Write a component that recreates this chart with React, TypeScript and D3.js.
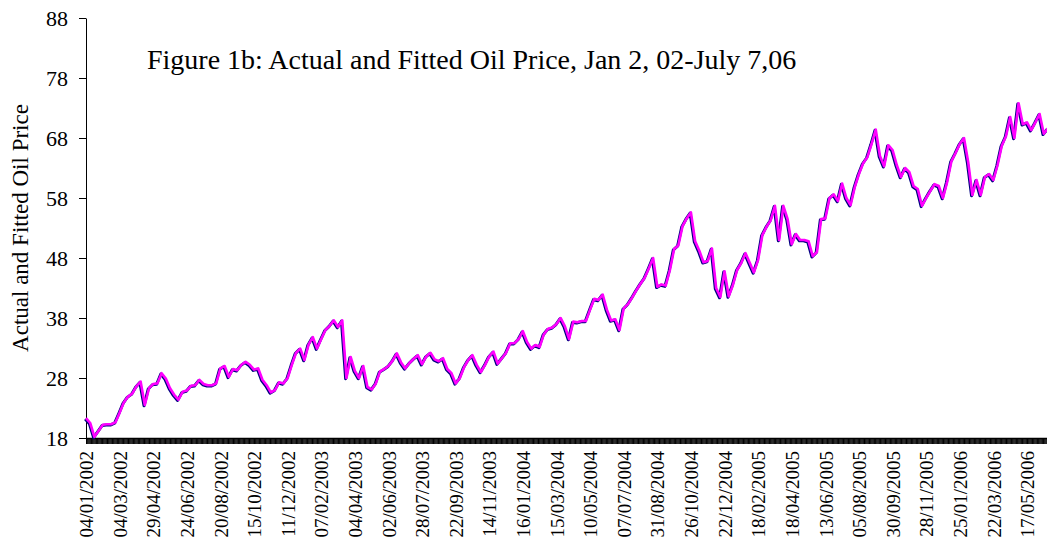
import React, { useEffect, useRef } from 'react';
import * as d3 from 'd3';

// one label every 40 trading days, starting on the first session
const dateLabels = [
  '04/01/2002', '04/03/2002', '29/04/2002', '24/06/2002', '20/08/2002', '15/10/2002',
  '11/12/2002', '07/02/2003', '04/04/2003', '02/06/2003', '28/07/2003', '22/09/2003',
  '14/11/2003', '16/01/2004', '15/03/2004', '10/05/2004', '07/07/2004', '31/08/2004',
  '26/10/2004', '22/12/2004', '18/02/2005', '18/04/2005', '13/06/2005', '05/08/2005',
  '30/09/2005', '28/11/2005', '25/01/2006', '22/03/2006', '17/05/2006',
];
const daysPerLabel = 40;
const tradingDays = 1146;
const sampleStep = 5; // one reading per week of sessions

const yTicks = [18, 28, 38, 48, 58, 68, 78, 88];

// weekly readings of the actual price
const actualPrice = [
  21.3, 20.5, 18.2, 19.2, 20.2, 20.3, 20.3, 20.6, 22.2, 23.9,
  24.9, 25.4, 26.6, 27.4, 23.5, 26.3, 27.0, 27.1, 28.8, 27.9,
  26.3, 25.2, 24.4, 25.7, 25.9, 26.7, 26.8, 27.7, 27.0, 26.8,
  26.8, 27.1, 29.6, 30.0, 28.2,
  29.5, 29.3, 30.2, 30.7, 30.2, 29.4, 29.6, 27.7, 26.8, 25.6,
  26.0, 27.3, 27.1, 28.0, 30.2, 32.2, 32.9, 31.0, 33.6, 34.8,
  32.9, 34.5, 36.0, 36.7, 37.6, 36.5, 37.6, 28.0, 31.5, 29.2,
  28.0, 30.0, 26.5,
  26.1, 27.1, 29.1, 29.5, 30.0, 30.9, 32.1, 30.6, 29.6, 30.5,
  31.2, 31.8, 30.3, 31.6, 32.2, 31.1, 30.8, 31.3, 29.5, 28.8,
  27.1, 28.0, 29.8, 31.0, 31.8, 30.2, 29.0, 30.2, 31.6, 32.4,
  30.4, 31.3, 32.2, 33.8,
  33.8, 34.5, 35.8, 34.0, 32.9, 33.5, 33.2, 35.3, 36.2, 36.4,
  37.0, 38.0, 36.6, 34.5, 37.4, 37.3, 37.5, 37.5, 39.4, 41.2,
  41.0, 41.9, 39.4, 37.6, 37.8, 36.0, 39.6, 40.3, 41.4, 42.6,
  43.7, 44.7, 46.3, 48.0, 43.2, 43.6, 43.4, 46.0, 49.5, 50.1,
  53.3, 54.6, 55.6,
  50.8, 49.2, 47.3, 47.5, 49.6, 43.0, 41.5, 45.8, 41.6, 43.5,
  46.0, 47.2, 48.8, 47.2, 45.6, 47.7, 51.8, 53.2, 54.3, 56.7,
  51.0, 56.7, 54.5,
  50.3, 52.0, 51.0, 51.0, 50.8, 48.3, 49.0, 54.5, 54.6, 58.0,
  58.6, 57.5, 60.4, 58.0, 56.8, 59.8, 62.0, 63.8, 64.8, 67.0,
  69.4, 65.0, 63.3, 66.8, 66.0, 63.5, 61.5, 63.0, 62.3, 60.0,
  59.5, 56.7, 58.0, 59.2,
  60.3, 60.0, 58.0, 60.7, 64.1, 65.5, 67.0, 68.0, 64.0, 58.5,
  61.0, 58.5, 61.5, 62.0, 61.0, 63.5, 66.7, 68.3, 71.5, 68.0,
  73.8, 70.3, 70.6, 69.3, 70.6, 72.0, 68.7, 69.6,
];
// the fitted series sits on top of the actual one at this scale
const fittedPrice = actualPrice.slice();

const font = '"Liberation Serif", "Times New Roman", serif';

export default function App() {
  const ref = useRef<SVGSVGElement>(null);

  useEffect(() => {
    const svg = d3.select(ref.current);
    svg.selectAll('*').remove();

    const left = 86;
    const right = 1048;
    const top = 18;
    const bottom = 438;

    const x = d3.scaleLinear().domain([0, tradingDays - 1]).range([left, right]);
    const y = d3.scaleLinear().domain([18, 88]).range([bottom, top]);

    // dense day ticks make the thick black band
    const dayAxis = svg
      .append('g')
      .attr('transform', `translate(0, ${bottom})`)
      .call(
        d3.axisBottom(x)
          .tickValues(d3.range(tradingDays))
          .tickSize(6)
          .tickSizeOuter(0)
          .tickFormat(() => '')
      );
    dayAxis.selectAll('line').attr('stroke', '#000');
    dayAxis.select('.domain').attr('stroke', '#000').attr('stroke-width', 1.5);

    const labelAxis = svg
      .append('g')
      .attr('transform', `translate(0, ${bottom})`)
      .call(
        d3.axisBottom(x)
          .tickValues(d3.range(0, tradingDays, daysPerLabel))
          .tickSize(0)
          .tickFormat((d, i) => dateLabels[i])
      );
    labelAxis.select('.domain').remove();
    labelAxis
      .selectAll('text')
      .attr('transform', 'rotate(-90)')
      .attr('x', -13)
      .attr('y', 0)
      .attr('dy', '0.35em')
      .attr('text-anchor', 'end')
      .attr('fill', '#000')
      .style('font-family', font)
      .style('font-size', '19px');

    const yAxis = svg
      .append('g')
      .attr('transform', `translate(${left}, 0)`)
      .call(d3.axisLeft(y).tickValues(yTicks).tickSize(7).tickSizeOuter(0).tickPadding(11));
    yAxis.select('.domain').attr('stroke', '#000');
    yAxis.selectAll('line').attr('stroke', '#000');
    yAxis
      .selectAll('text')
      .attr('fill', '#000')
      .style('font-family', font)
      .style('font-size', '22px');

    const line = d3
      .line<number>()
      .x((d, i) => x(i * sampleStep))
      .y(d => y(d));

    svg
      .append('path')
      .datum(actualPrice)
      .attr('d', line)
      .attr('fill', 'none')
      .attr('stroke', '#000080')
      .attr('stroke-width', 3)
      .attr('stroke-linejoin', 'round')
      .attr('transform', 'translate(-0.8, 0.8)');

    svg
      .append('path')
      .datum(fittedPrice)
      .attr('d', line)
      .attr('fill', 'none')
      .attr('stroke', '#ff00ff')
      .attr('stroke-width', 2.6)
      .attr('stroke-linejoin', 'round');

    svg
      .append('text')
      .attr('x', 147)
      .attr('y', 69)
      .style('font-family', font)
      .style('font-size', '28px')
      .text('Figure 1b: Actual and Fitted Oil Price, Jan 2, 02-July 7,06');

    svg
      .append('text')
      .attr('transform', `translate(20, ${(top + bottom) / 2}) rotate(-90)`)
      .attr('text-anchor', 'middle')
      .attr('dy', '0.35em')
      .style('font-family', font)
      .style('font-size', '23px')
      .text('Actual and Fitted Oil Price');
  }, []);

  return (
    <svg
      ref={ref}
      width={1047}
      height={540}
      style={{ position: 'absolute', left: 0, top: 0, background: '#fff' }}
    />
  );
}
